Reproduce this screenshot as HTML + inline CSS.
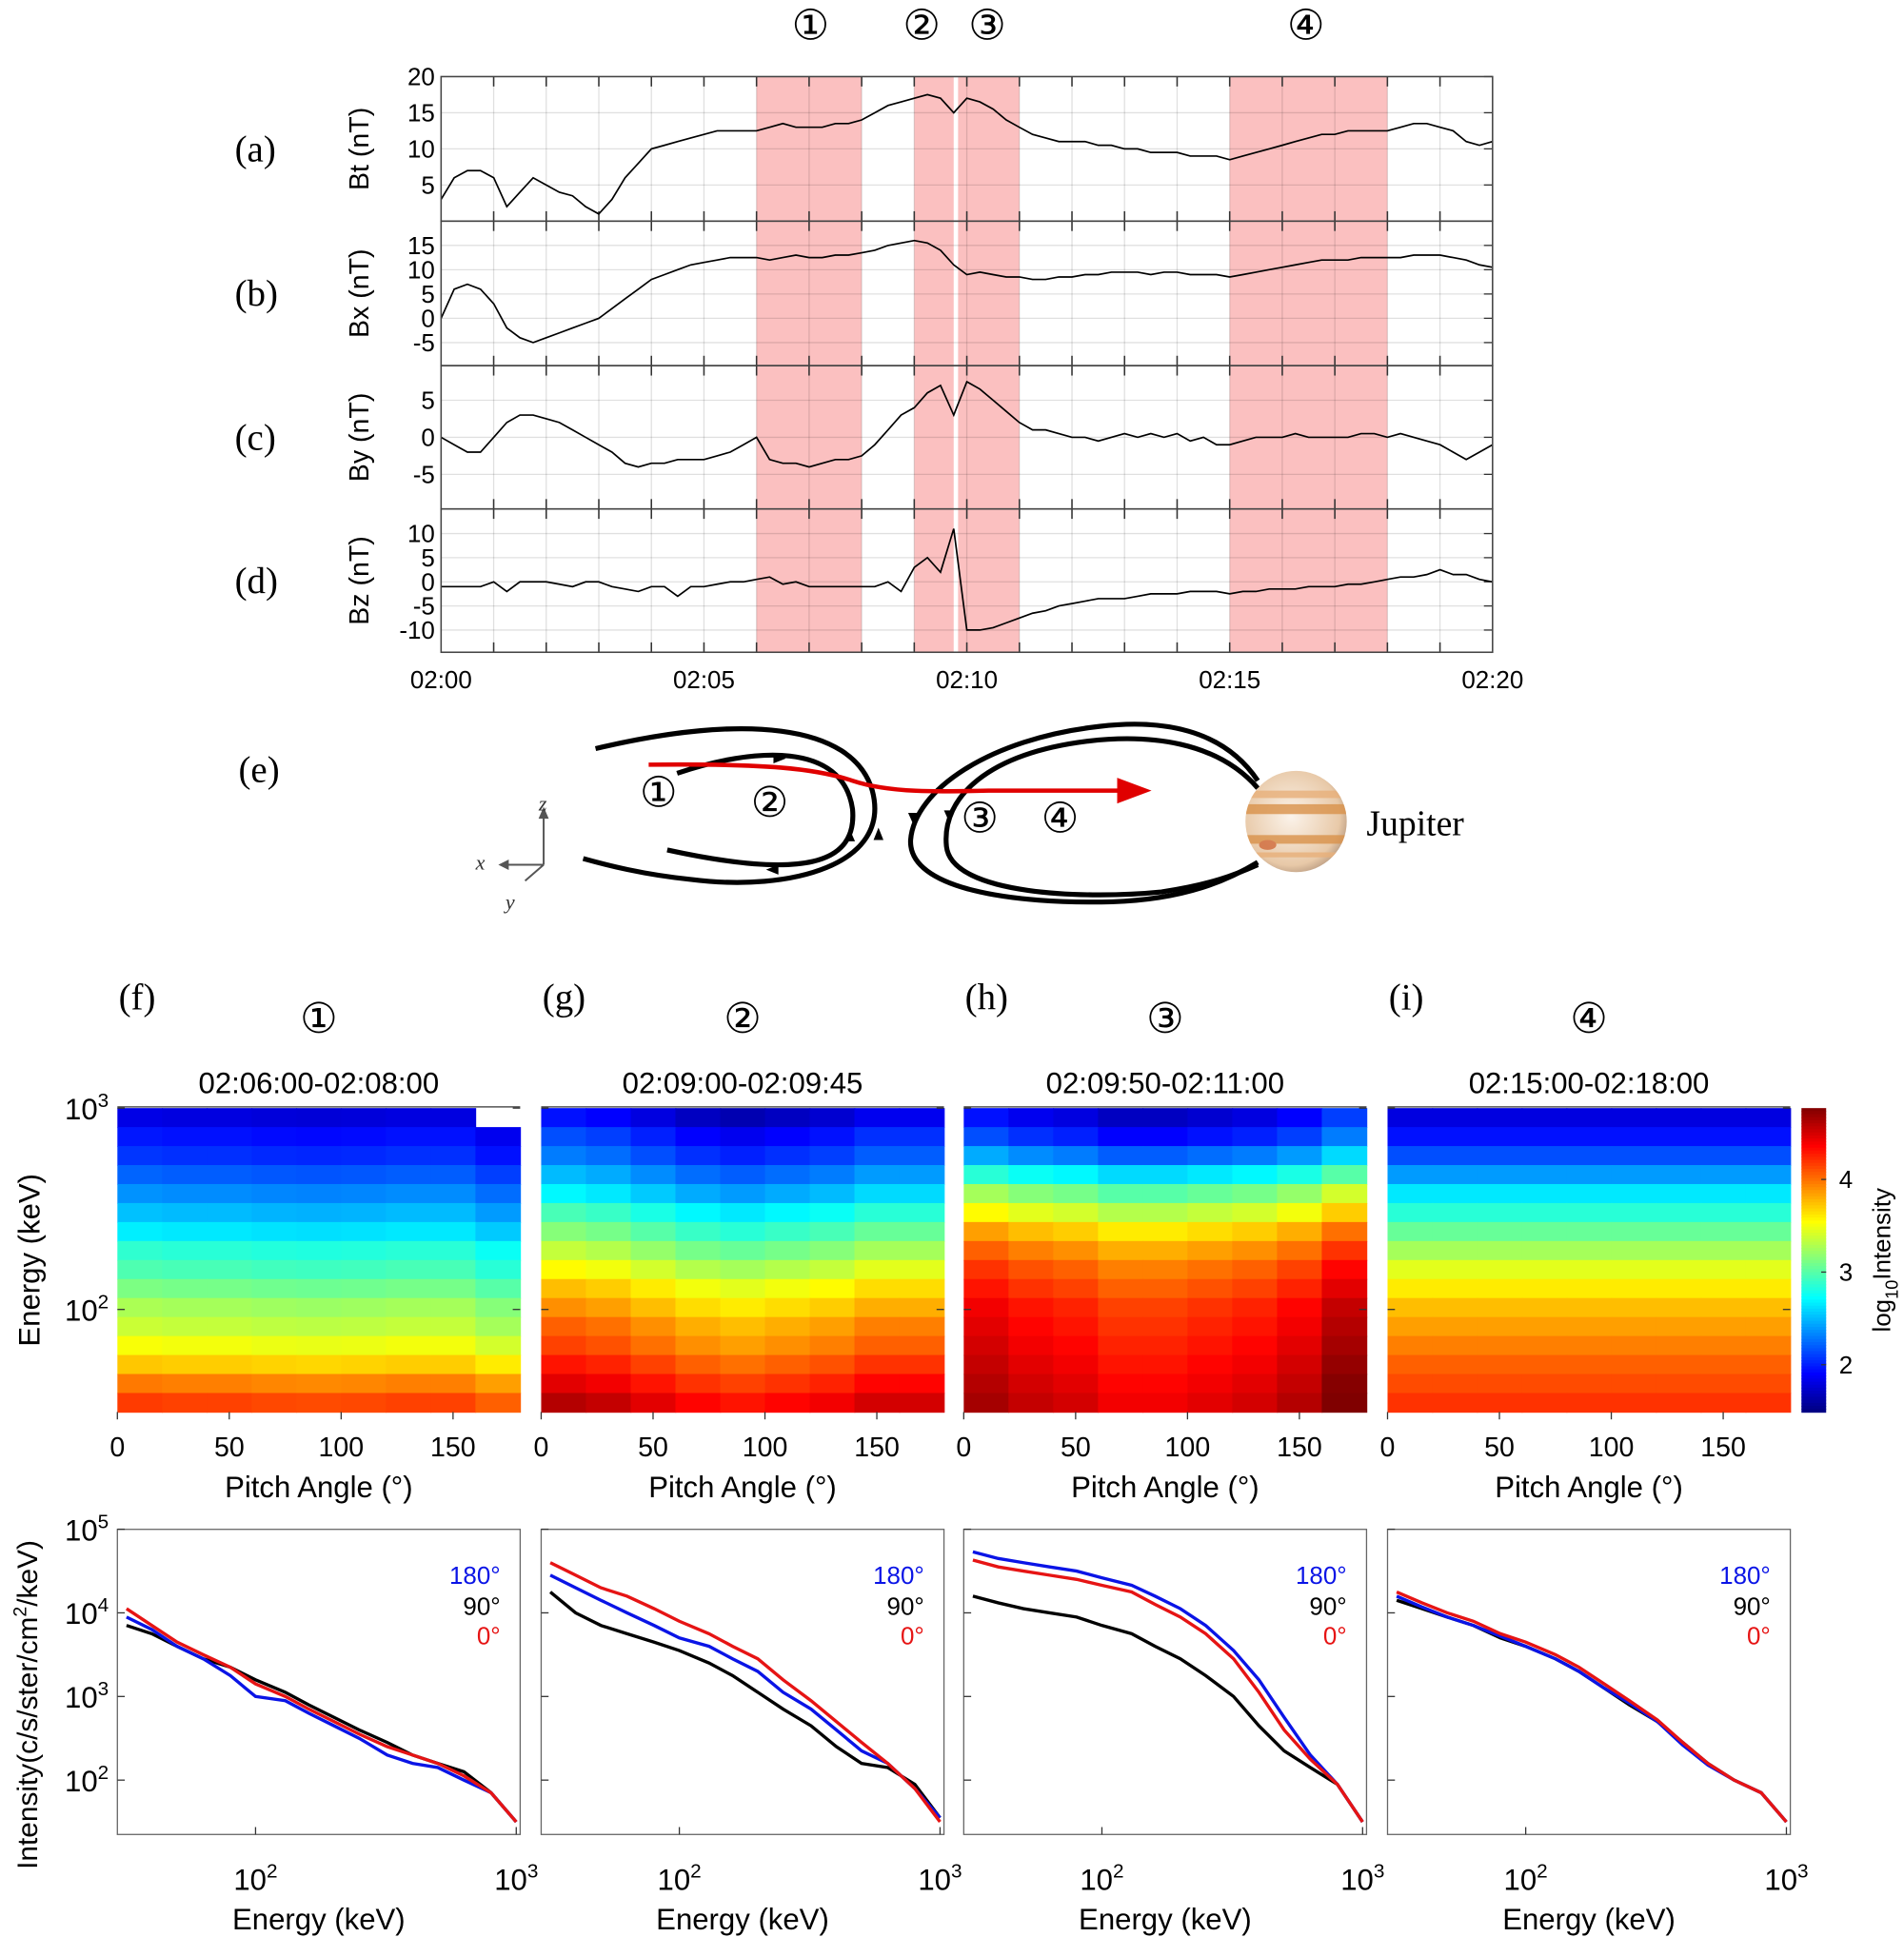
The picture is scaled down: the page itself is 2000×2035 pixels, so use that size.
<!DOCTYPE html>
<html><head><meta charset="utf-8"><style>
html,body{margin:0;padding:0;background:#fff;}
svg{display:block;}
</style></head><body>
<svg id="fig" xmlns="http://www.w3.org/2000/svg" width="2000" height="2035" viewBox="0 0 1541 1568" preserveAspectRatio="none" font-family="'Liberation Sans', sans-serif">
<defs>
<radialGradient id="jg" cx="45%" cy="45%" r="60%"><stop offset="0" stop-color="#fbf3ea"/><stop offset="0.8" stop-color="#e8c9a8"/><stop offset="1" stop-color="#b89a80"/></radialGradient>
<clipPath id="jclip"><circle cx="1049" cy="665" r="41"/></clipPath>
<marker id="arrR" markerWidth="10" markerHeight="10" refX="6" refY="3" orient="auto"><path d="M0,0 L8,3 L0,6 Z" fill="#e00000"/></marker>
</defs>
<g id="diagram">
<text x="193" y="633" font-family="'Liberation Serif', serif" font-size="30">(e)</text>
<path d="M482,606 C600,578 690,585 706,640 C722,700 640,722 560,712 C520,708 490,700 472,695" fill="none" stroke="#000" stroke-width="4"/>
<path d="M548,626 C610,605 682,600 690,655 C694,700 650,712 540,688" fill="none" stroke="#000" stroke-width="4"/>
<path d="M1018,632 C990,590 940,582 890,588 C800,598 740,640 737,680 C735,720 820,732 900,730 C960,728 995,712 1018,698" fill="none" stroke="#000" stroke-width="4"/>
<path d="M1018,638 C985,600 930,594 880,600 C800,610 762,645 766,685 C770,725 880,728 940,722 C980,716 1000,708 1018,700" fill="none" stroke="#000" stroke-width="4"/>
<path d="M636,614 l-10,-4 l0,8 z M711,670 l-4,10 l8,0 z M620,704 l10,-4 l0,8 z M688,672 l-4,9 l8,0 z M739,667 l-4,-9 l8,0 z M768,665 l-4,-9 l8,0 z" fill="#000"/>
<path d="M525,619 C620,618 660,622 690,632 C720,642 760,641 800,640 L925,640" fill="none" stroke="#e00000" stroke-width="3.5" marker-end="url(#arrR)"/>
<g font-family="'Liberation Serif','DejaVu Sans',serif" font-size="34">
<text x="533" y="653" text-anchor="middle">①</text><text x="623" y="661" text-anchor="middle">②</text><text x="793" y="674" text-anchor="middle">③</text><text x="858" y="674" text-anchor="middle">④</text>
</g>
<g stroke="#555" stroke-width="1.5" fill="none">
<path d="M440,700 L440,660 M440,700 L408,700 M440,700 L425,713"/>
<path d="M437,662 l3,-7 l3,7 z M411,697 l-6,3 l6,3 z" fill="#555"/>
</g>
<g font-family="'Liberation Serif',serif" font-style="italic" font-size="17" fill="#333"><text x="436" y="656">z</text><text x="385" y="704">x</text><text x="409" y="736">y</text></g>
<g>
<circle cx="1049" cy="665" r="41" fill="url(#jg)"/>
<g clip-path="url(#jclip)" fill="#d9924a" opacity="0.8">
<rect x="1000" y="640" width="100" height="6" fill="#e8b07a"/><rect x="1000" y="651" width="100" height="8"/><rect x="1000" y="676" width="100" height="7"/><rect x="1000" y="690" width="100" height="4" fill="#e8b07a"/>
<ellipse cx="1026" cy="684" rx="7" ry="4" fill="#d06a3a"/></g>
</g>
<text x="1106" y="676" font-family="'Liberation Serif',serif" font-size="29">Jupiter</text>
</g>
</svg>
<script>
// ---------- Time-series data (minutes after 02:00, step 0.25) ----------
const tStep = 0.25;
const btVals = [3,6,7,7,6,2,4,6,5,4,3.5,2,1,3,6,8,10,10.5,11,11.5,12,12.5,12.5,12.5,12.5,13,13.5,13,13,13,13.5,13.5,14,15,16,16.5,17,17.5,17,15,17,16.5,15.5,14,13,12,11.5,11,11,11,10.5,10.5,10,10,9.5,9.5,9.5,9,9,9,8.5,9,9.5,10,10.5,11,11.5,12,12,12.5,12.5,12.5,12.5,13,13.5,13.5,13,12.5,11,10.5,11];
const bxVals = [0,6,7,6,3,-2,-4,-5,-4,-3,-2,-1,0,2,4,6,8,9,10,11,11.5,12,12.5,12.5,12.5,12,12.5,13,12.5,12.5,13,13,13.5,14,15,15.5,16,15.5,14,11,9,9.5,9,8.5,8.5,8,8,8.5,8.5,9,9,9.5,9.5,9.5,9,9.5,9.5,9,9,9,8.5,9,9.5,10,10.5,11,11.5,12,12,12,12.5,12.5,12.5,12.5,13,13,13,12.5,12,11,10.5];
const byVals = [0,-1,-2,-2,0,2,3,3,2.5,2,1,0,-1,-2,-3.5,-4,-3.5,-3.5,-3,-3,-3,-2.5,-2,-1,0,-3,-3.5,-3.5,-4,-3.5,-3,-3,-2.5,-1,1,3,4,6,7,3,7.5,6.5,5,3.5,2,1,1,0.5,0,0,-0.5,0,0.5,0,0.5,0,0.5,-0.5,0,-1,-1,-0.5,0,0,0,0.5,0,0,0,0,0.5,0.5,0,0.5,0,-0.5,-1,-2,-3,-2,-1];
const bzVals = [-1,-1,-1,-1,0,-2,0,0,0,-0.5,-1,0,0,-1,-1.5,-2,-1,-1,-3,-1,-1,-0.5,0,0,0.5,1,-0.5,0,-1,-1,-1,-1,-1,-1,0,-2,3,5,2,11,-10,-10,-9.5,-8.5,-7.5,-6.5,-6,-5,-4.5,-4,-3.5,-3.5,-3.5,-3,-2.5,-2.5,-2.5,-2,-2,-2,-2.5,-2,-2,-1.5,-1.5,-1.5,-1,-1,-1,-0.5,-0.5,0,0.5,1,1,1.5,2.5,1.5,1.5,0.5,0];
const intervalStart = [6, 9, 9.8333, 15];
const intervalEnd = [8, 9.75, 11, 18];
const timeTicks = ["02:00","02:05","02:10","02:15","02:20"];
const btTicks = [5,10,15,20];
const bxTicks = [-5,0,5,10,15];
const byTicks = [-5,0,5];
const bzTicks = [-10,-5,0,5,10];

// ---------- Pitch-angle heatmap data (log10 intensity) ----------
const hmRowBase_f = [1.8,1.95,2.05,2.2,2.35,2.5,2.65,2.85,2.95,3.1,3.25,3.35,3.5,3.7,3.95,4.15];
const hmColOff_f = [0.02,0,0,-0.02,-0.03,-0.02,0,0,-0.1];
const hmRowBase_g = [1.8,2.0,2.15,2.35,2.55,2.8,3.0,3.2,3.4,3.6,3.75,3.9,4.0,4.15,4.3,4.45];
const hmColOff_g = [0.15,0.1,0,-0.1,-0.15,-0.1,-0.05,0.05,0.05];
const hmRowBase_h = [1.8,2.0,2.3,2.7,3.1,3.4,3.7,3.9,4.05,4.15,4.25,4.3,4.35,4.4,4.45,4.5];
const hmColOff_h = [0.15,0.05,0,-0.1,-0.1,-0.05,0,0.1,0.3];
const hmRowBase_i = [1.8,1.95,2.15,2.4,2.65,2.85,3.05,3.25,3.45,3.6,3.75,3.85,3.95,4.05,4.12,4.2];
const hmColOff_i = [0,0,0,0,0,0,0,0,0];
const hmTitles = ["02:06:00-02:08:00","02:09:00-02:09:45","02:09:50-02:11:00","02:15:00-02:18:00"];
const hmPanelLetters = ["(f)","(g)","(h)","(i)"];
const hmCircled = ["①","②","③","④"];
const paTicks = [0,50,100,150];
const cbTicks = [2,3,4];

// ---------- Energy spectra (log10 intensity) ----------
const specEnergy = [32,40,50,63,80,100,130,160,200,250,320,400,500,630,800,1000];
const f_red = [4.05,3.85,3.65,3.5,3.35,3.15,3.0,2.85,2.7,2.55,2.4,2.3,2.2,2.05,1.85,1.5];
const f_black = [3.85,3.75,3.6,3.45,3.35,3.2,3.05,2.9,2.75,2.6,2.45,2.3,2.2,2.1,1.85,1.5];
const f_blue = [3.95,3.8,3.6,3.45,3.25,3.0,2.95,2.8,2.65,2.5,2.3,2.2,2.15,2.0,1.85,1.5];
const g_red = [4.6,4.45,4.3,4.2,4.05,3.9,3.75,3.6,3.45,3.2,2.95,2.7,2.45,2.2,1.9,1.5];
const g_black = [4.25,4.0,3.85,3.75,3.65,3.55,3.4,3.25,3.05,2.85,2.65,2.4,2.2,2.15,1.95,1.55];
const g_blue = [4.45,4.3,4.15,4.0,3.85,3.7,3.6,3.45,3.3,3.05,2.85,2.6,2.35,2.2,1.9,1.55];
const h_red = [4.63,4.55,4.5,4.45,4.4,4.33,4.25,4.1,3.95,3.75,3.45,3.05,2.6,2.25,1.95,1.5];
const h_black = [4.2,4.12,4.05,4.0,3.95,3.85,3.75,3.6,3.45,3.25,3.0,2.65,2.35,2.15,1.95,1.5];
const h_blue = [4.73,4.65,4.6,4.55,4.5,4.42,4.33,4.2,4.05,3.85,3.55,3.2,2.75,2.3,1.95,1.5];
const i_red = [4.25,4.12,4.0,3.9,3.75,3.65,3.5,3.35,3.15,2.95,2.72,2.45,2.2,2.0,1.85,1.5];
const i_black = [4.15,4.05,3.95,3.85,3.7,3.6,3.45,3.3,3.1,2.9,2.7,2.45,2.2,2.0,1.85,1.5];
const i_blue = [4.2,4.07,3.95,3.85,3.72,3.6,3.45,3.3,3.1,2.92,2.7,2.42,2.18,2.0,1.85,1.5];
const specYTicks = [2,3,4,5];
const specXTicks = [2,3];

const NS = "http://www.w3.org/2000/svg";
const svg = document.getElementById("fig");
function mk(tag, attrs, parent) {
  const e = document.createElementNS(NS, tag);
  for (const k in attrs) e.setAttribute(k, attrs[k]);
  (parent || svg).appendChild(e);
  return e;
}
function txt(s, attrs, parent) { const e = mk("text", attrs, parent); e.textContent = s; return e; }

// ---------- Top panels ----------
const PX0 = 357, PX1 = 1208;
const xT = m => PX0 + (PX1 - PX0) * m / 20;
const panels = [
  {vals: btVals, top: 62, bot: 179, vmin: 0, vmax: 20, ticks: btTicks, lab: "Bt (nT)", letter: "(a)", name: "bt"},
  {vals: bxVals, top: 179, bot: 296, vmin: -9.75, vmax: 20, ticks: bxTicks, lab: "Bx (nT)", letter: "(b)", name: "bx"},
  {vals: byVals, top: 296, bot: 412, vmin: -9.67, vmax: 9.67, ticks: byTicks, lab: "By (nT)", letter: "(c)", name: "by"},
  {vals: bzVals, top: 412, bot: 528, vmin: -14.6, vmax: 15.1, ticks: bzTicks, lab: "Bz (nT)", letter: "(d)", name: "bz"}
];
const gTop = mk("g", {});


for (let k = 0; k < intervalStart.length; k++) {
  const r = mk("rect", {x: xT(intervalStart[k]), y: 62, width: xT(intervalEnd[k]) - xT(intervalStart[k]), height: 466, fill: "#fbc0c0"}, gTop);
  
  
}
const topMarks = ["①","②","③","④"];
const topMarkX = [656, 746, 799, 1057];
for (let k = 0; k < 4; k++) {
  const t = txt(topMarks[k], {x: topMarkX[k], y: 32, "text-anchor": "middle", "font-size": 34, "font-family": "'Liberation Serif','DejaVu Sans',serif"}, gTop);
  
  
}
panels.forEach(p => {
  const g = mk("g", {}, gTop);
  
  
  const yV = v => p.bot - (v - p.vmin) / (p.vmax - p.vmin) * (p.bot - p.top);
  for (let m = 1; m < 20; m++) {
    mk("line", {x1: xT(m), x2: xT(m), y1: p.top, y2: p.bot, stroke: "#000", "stroke-opacity": 0.12, "stroke-width": 1}, g);
    mk("line", {x1: xT(m), x2: xT(m), y1: p.top, y2: p.top + 8, stroke: "#333", "stroke-width": 1.2}, g);
    mk("line", {x1: xT(m), x2: xT(m), y1: p.bot, y2: p.bot - 8, stroke: "#333", "stroke-width": 1.2}, g);
  }
  p.ticks.forEach(v => {
    mk("line", {x1: PX0, x2: PX1, y1: yV(v), y2: yV(v), stroke: "#000", "stroke-opacity": 0.12}, g);
    mk("line", {x1: PX1, x2: PX1 - 7, y1: yV(v), y2: yV(v), stroke: "#333"}, g);
    const t = txt(String(v), {x: PX0 - 5, y: yV(v) + 7, "text-anchor": "end", "font-size": 20}, g);
    
    
  });
  let d = "";
  p.vals.forEach((v, i) => { d += (i ? "L" : "M") + xT(i * tStep).toFixed(1) + "," + yV(v).toFixed(1); });
  const line = mk("path", {d: d, fill: "none", stroke: "#000", "stroke-width": 1.3}, g);
  
  
  mk("rect", {x: PX0, y: p.top, width: PX1 - PX0, height: p.bot - p.top, fill: "none", stroke: "#444", "stroke-width": 1.2}, g);
  const cy = (p.top + p.bot) / 2;
  const yl = txt(p.lab, {x: 0, y: 0, transform: "translate(298," + cy + ") rotate(-90)", "text-anchor": "middle", "font-size": 22}, g);
  
  
  const pl = txt(p.letter, {x: 190, y: cy + 10, "font-size": 30, "font-family": "'Liberation Serif',serif"}, g);
  
  
});
timeTicks.forEach((s, i) => {
  const t = txt(s, {x: xT(i * 5), y: 557, "text-anchor": "middle", "font-size": 20}, gTop);
  
  
});

// ---------- Heatmaps ----------
const HX = [95, 438, 780, 1123], HW = 326, HY0 = 897, HY1 = 1143;
const CMIN = 1.49, CMAX = 4.77;
function jet(v) {
  const t = Math.max(0, Math.min(1, (v - CMIN) / (CMAX - CMIN)));
  const c = x => Math.round(255 * Math.max(0, Math.min(1, 1.5 - Math.abs(4 * t - x))));
  return "rgb(" + c(3) + "," + c(2) + "," + c(1) + ")";
}
const hmBases = [hmRowBase_f, hmRowBase_g, hmRowBase_h, hmRowBase_i];
const hmOffs = [hmColOff_f, hmColOff_g, hmColOff_h, hmColOff_i];
const eY = e => HY0 + (3 - Math.log10(e)) * 163;
const paX = (k, a) => HX[k] + a / 180 * HW;
for (let k = 0; k < 4; k++) {
  const g = mk("g", {});
  
  
  const base = hmBases[k], off = hmOffs[k];
  const rh = (HY1 - HY0) / base.length, cw = HW / off.length;
  for (let r = 0; r < base.length; r++) for (let c = 0; c < off.length; c++) {
    if (k === 0 && r === 0 && c === off.length - 1) continue;
    const cell = mk("rect", {x: (HX[k] + c * cw).toFixed(2), y: (HY0 + r * rh).toFixed(2), width: (cw + 0.6).toFixed(2), height: (rh + 0.6).toFixed(2), fill: jet(base[r] + off[c])}, g);
    
    
  }
  mk("line", {x1: HX[k], x2: HX[k] + HW, y1: HY0 - 1, y2: HY0 - 1, stroke: "#555", "stroke-width": 1.2}, g);
  paTicks.forEach(a => {
    mk("line", {x1: paX(k, a), x2: paX(k, a), y1: HY1, y2: HY1 + 6, stroke: "#333"}, g);
    const t = txt(String(a), {x: paX(k, a), y: 1179, "text-anchor": "middle", "font-size": 22}, g);
    
    
  });
  const xl = txt("Pitch Angle (°)", {x: HX[k] + HW / 2, y: 1212, "text-anchor": "middle", "font-size": 24}, g);
  
  
  const tt = txt(hmTitles[k], {x: HX[k] + HW / 2, y: 885, "text-anchor": "middle", "font-size": 24}, g);
  
  
  const cm = txt(hmCircled[k], {x: HX[k] + HW / 2, y: 836, "text-anchor": "middle", "font-size": 34, "font-family": "'Liberation Serif','DejaVu Sans',serif"}, g);
  
  
  const lt = txt(hmPanelLetters[k], {x: HX[k] + 1, y: 817, "font-size": 30, "font-family": "'Liberation Serif',serif"}, g);
  
  
  [1000, 100].forEach(e => {
    mk("line", {x1: HX[k], x2: HX[k] + 6, y1: eY(e), y2: eY(e), stroke: "#333"}, g);
    mk("line", {x1: HX[k] + HW, x2: HX[k] + HW - 6, y1: eY(e), y2: eY(e), stroke: "#333"}, g);
  });
}
const hyl = mk("g", {"font-size": 24});


[[3, 1000], [2, 100]].forEach(([p, e]) => {
  const t = mk("text", {x: 88, y: eY(e) + 9, "text-anchor": "end"}, hyl);
  t.innerHTML = '10<tspan dy="-10" font-size="16">' + p + '</tspan>';
});
txt("Energy (keV)", {x: 0, y: 0, transform: "translate(32,1020) rotate(-90)", "text-anchor": "middle", "font-size": 24}, hyl);
const cb = mk("g", {});


for (let i = 0; i < 100; i++) {
  const v = CMAX - (CMAX - CMIN) * (i + 0.5) / 100;
  mk("rect", {x: 1458, y: HY0 + i * (HY1 - HY0) / 100, width: 20, height: (HY1 - HY0) / 100 + 0.6, fill: jet(v)}, cb);
}
const cbY = v => HY1 - (v - CMIN) / (CMAX - CMIN) * (HY1 - HY0);
cbTicks.forEach(v => {
  mk("line", {x1: 1478, x2: 1474, y1: cbY(v), y2: cbY(v), stroke: "#333"}, cb);
  txt(String(v), {x: 1494, y: cbY(v) + 7, "text-anchor": "middle", "font-size": 20}, cb);
});
const cbl = mk("text", {x: 0, y: 0, transform: "translate(1530,1020) rotate(-90)", "text-anchor": "middle", "font-size": 20}, cb);
cbl.innerHTML = 'log<tspan dy="6" font-size="14">10</tspan><tspan dy="-6">Intensity</tspan>';

// ---------- Energy spectra ----------
const SY0 = 1238, SY1 = 1485;
const sX = (k, e) => HX[k] + (Math.log10(e) - 1.47) * 211;
const sY = lv => 1441 - (lv - 2) * 67.7;
const specSets = [[f_black, f_blue, f_red], [g_black, g_blue, g_red], [h_black, h_blue, h_red], [i_black, i_blue, i_red]];
const specColors = ["#000", "#0a14e6", "#e61414"];
const specNames = ["90deg", "180deg", "0deg"];
for (let k = 0; k < 4; k++) {
  const g = mk("g", {});
  
  
  mk("rect", {x: HX[k], y: SY0, width: HW, height: SY1 - SY0, fill: "none", stroke: "#666", "stroke-width": 1}, g);
  specYTicks.forEach(p => {
    mk("line", {x1: HX[k], x2: HX[k] + 6, y1: sY(p), y2: sY(p), stroke: "#333"}, g);
  });
  specXTicks.forEach(p => {
    const x = sX(k, Math.pow(10, p));
    mk("line", {x1: x, x2: x, y1: SY1, y2: SY1 - 6, stroke: "#333"}, g);
    const t = mk("text", {x: x, y: 1530, "text-anchor": "middle", "font-size": 24}, g);
    t.innerHTML = '10<tspan dy="-10" font-size="16">' + p + '</tspan>';
  });
  const xl = txt("Energy (keV)", {x: HX[k] + HW / 2, y: 1562, "text-anchor": "middle", "font-size": 24}, g);
  
  
  specSets[k].forEach((ser, si) => {
    let d = "";
    ser.forEach((v, i) => { d += (i ? "L" : "M") + sX(k, specEnergy[i]).toFixed(1) + "," + sY(v).toFixed(1); });
    const pth = mk("path", {d: d, fill: "none", stroke: specColors[si], "stroke-width": 2.6}, g);
    
    
  });
  const lg = mk("g", {"font-size": 20, "text-anchor": "end"}, g);
  
  
  txt("180°", {x: HX[k] + 310, y: 1282, fill: "#0a14e6"}, lg);
  txt("90°", {x: HX[k] + 310, y: 1307, fill: "#000"}, lg);
  txt("0°", {x: HX[k] + 310, y: 1331, fill: "#e61414"}, lg);
}
const syl = mk("g", {"font-size": 24});


specYTicks.forEach(p => {
  const t = mk("text", {x: 88, y: sY(p) + 9, "text-anchor": "end"}, syl);
  t.innerHTML = '10<tspan dy="-10" font-size="16">' + p + '</tspan>';
});
const iyl = mk("text", {x: 0, y: 0, transform: "translate(30,1380) rotate(-90)", "text-anchor": "middle", "font-size": 23}, syl);
iyl.innerHTML = 'Intensity(c/s/ster/cm<tspan dy="-9" font-size="15">2</tspan><tspan dy="9">/keV)</tspan>';
</script>
</body></html>
